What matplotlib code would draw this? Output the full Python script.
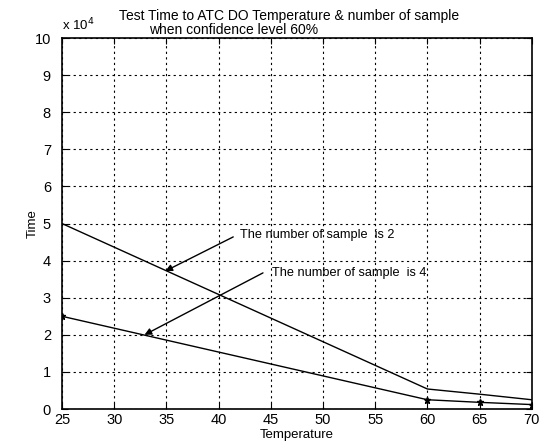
"""Test time vs temperature for two sample counts (confidence level 60%)."""
import matplotlib

matplotlib.use("Agg")
import matplotlib.pyplot as plt
from matplotlib.ticker import FuncFormatter

plt.rcParams["font.family"] = ["Liberation Sans", "DejaVu Sans"]

temperature = [25, 60, 65, 70]
time_n2 = [50000, 5400, 4000, 2500]
time_n4 = [25000, 2500, 1800, 1200]

xticks = [25, 30, 35, 40, 45, 50, 55, 60, 65, 70]
yticks = [0, 1e4, 2e4, 3e4, 4e4, 5e4, 6e4, 7e4, 8e4, 9e4, 10e4]


def main():
    fig = plt.figure(figsize=(5.46, 4.48), dpi=100)
    ax = fig.add_axes([0.1136, 0.087, 0.8604, 0.828])

    ax.plot(temperature, time_n2, "-", color="black", linewidth=1.0)
    ax.plot(temperature, time_n4, "-*", color="black", linewidth=1.0,
            markersize=5)

    ax.set_xlim(25, 70)
    ax.set_ylim(0, 10e4)
    ax.set_xticks(xticks)
    ax.set_yticks(yticks)
    ax.yaxis.set_major_formatter(FuncFormatter(lambda v, p: f"{v / 1e4:g}"))
    ax.tick_params(direction="in", top=True, right=True, length=4,
                   labelsize=10.5, colors="black")
    ax.tick_params(axis="y", pad=8)
    ax.tick_params(axis="x", pad=3)
    ax.grid(True, color="black", linestyle=(0, (2, 3)), linewidth=0.8)
    for s in ax.spines.values():
        s.set_linewidth(1.2)
        s.set_color("black")

    ax.text(0.0, 1.012, r"x 10$^4$", transform=ax.transAxes, fontsize=9.5,
            ha="left", va="bottom")
    fig.text(0.53, 0.965, "Test Time to ATC DO Temperature & number of sample",
             ha="center", va="center", fontsize=10)
    fig.text(0.428, 0.932, "when confidence level 60%",
             ha="center", va="center", fontsize=10)

    ax.set_xlabel("Temperature", fontsize=9.5, labelpad=1)
    ax.set_ylabel("Time", fontsize=9.5, labelpad=-3)

    arrow = dict(arrowstyle="-|>", color="black", linewidth=1.0,
                 mutation_scale=10, shrinkA=0, shrinkB=0)
    ax.annotate("", xy=(34.9, 37200), xytext=(41.4, 46400), arrowprops=arrow)
    ax.text(42.05, 46900, "The number of sample  is 2", fontsize=9.2,
            ha="left", va="center")
    ax.annotate("", xy=(32.9, 20000), xytext=(44.25, 36700), arrowprops=arrow)
    ax.text(45.1, 36700, "The number of sample  is 4", fontsize=9.2,
            ha="left", va="center")

    fig.savefig("out.png", dpi=100)


if __name__ == "__main__":
    main()
